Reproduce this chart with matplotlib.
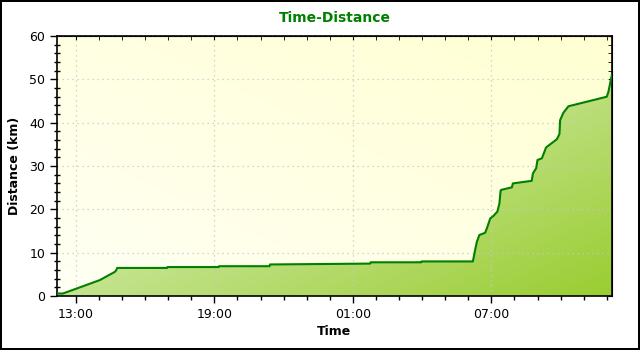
import numpy as np
import matplotlib.pyplot as plt
from matplotlib.colors import LinearSegmentedColormap
from matplotlib.ticker import FixedLocator, MultipleLocator, FuncFormatter

# time in hours since midnight of the first day, distance in km
times = [12.18, 12.44, 14.04, 14.69, 14.75, 14.79, 16.95, 16.97, 19.18, 19.20,
         21.39, 21.41, 25.75, 25.77, 27.96, 27.98, 30.20, 30.28, 30.37, 30.48,
         30.73, 30.83, 30.95, 31.09, 31.26, 31.35, 31.40, 31.42, 31.89, 31.93,
         32.07, 32.75, 32.80, 32.94, 33.00, 33.19, 33.37, 33.84, 33.95, 33.98,
         34.12, 34.34, 36.00, 36.07, 36.22]
dist = [0.6, 0.6, 3.7, 5.6, 6.0, 6.5, 6.5, 6.7, 6.7, 6.9,
        6.9, 7.3, 7.5, 7.8, 7.8, 8.0, 8.0, 10.2, 12.5, 14.1,
        14.6, 16.0, 17.9, 18.5, 19.5, 21.4, 24.3, 24.5, 25.1, 26.0,
        26.1, 26.6, 28.3, 29.5, 31.4, 31.8, 34.3, 36.2, 37.4, 40.6,
        42.3, 43.8, 46.0, 47.1, 51.0]
major_hours = [13, 19, 25, 31]
xmin, xmax = 12.18, 36.22

fig = plt.figure(figsize=(6.4, 3.5), dpi=100)
fig.patch.set_edgecolor('black')
fig.patch.set_linewidth(1.5)
ax = fig.add_axes([0.089, 0.154, 0.867, 0.743])

ax.set_xlim(xmin, xmax)
ax.set_ylim(0, 60)

# background gradient
xx, yy = np.meshgrid(np.linspace(0, 1, 200), np.linspace(0, 1, 200))
bg = LinearSegmentedColormap.from_list('bg', ['#fffff4', '#ffffd2'])
ax.imshow((xx + yy) / 2, cmap=bg, extent=[xmin, xmax, 0, 60], origin='lower',
          aspect='auto', zorder=0)

# green fill gradient, clipped to the area under the line
fg = LinearSegmentedColormap.from_list('fg', ['#e2f2c0', '#c4e38e', '#9acd32'])
img = ax.imshow((xx + (1 - yy)) / 2, cmap=fg, extent=[xmin, xmax, 0, 60],
                origin='lower', aspect='auto', zorder=1)
clip = plt.Polygon(np.vstack([np.column_stack([times, dist]),
                              [[times[-1], 0], [times[0], 0]]]),
                   transform=ax.transData, facecolor='none', edgecolor='none')
ax.add_patch(clip)
img.set_clip_path(clip)

ax.plot(times, dist, color='#008000', lw=1.5, zorder=3)

ax.grid(True, which='major', linestyle=(0, (1, 3)), color='#c8c8c8', lw=0.9)
for gl in ax.get_xgridlines() + ax.get_ygridlines():
    gl.set_zorder(0.5)

ax.xaxis.set_major_locator(FixedLocator(major_hours))
ax.xaxis.set_minor_locator(MultipleLocator(1))
ax.xaxis.set_major_formatter(FuncFormatter(lambda v, p: '%02d:00' % (int(round(v)) % 24)))
ax.yaxis.set_major_locator(MultipleLocator(10))
ax.yaxis.set_minor_locator(MultipleLocator(2))

ax.tick_params(which='major', direction='out', length=5, width=1, labelsize=9)
ax.tick_params(which='minor', direction='inout', length=4, width=1)
ax.tick_params(axis='x', which='minor', direction='out', length=3)

top = ax.secondary_xaxis('top')
top.xaxis.set_major_locator(FixedLocator(major_hours))
top.xaxis.set_minor_locator(MultipleLocator(1))
top.tick_params(which='both', direction='in', length=3, labeltop=False)
right = ax.secondary_yaxis('right')
right.yaxis.set_major_locator(MultipleLocator(10))
right.yaxis.set_minor_locator(MultipleLocator(2))
right.tick_params(which='both', direction='in', length=3, labelright=False)

for sp in ax.spines.values():
    sp.set_linewidth(1.2)

ax.set_title('Time-Distance', color='#008000', fontweight='bold', fontsize=10, pad=10)
ax.set_xlabel('Time', fontweight='bold', fontsize=9, labelpad=3)
ax.set_ylabel('Distance (km)', fontweight='bold', fontsize=9, labelpad=6)

fig.savefig('out.png', dpi=100, edgecolor='black')
